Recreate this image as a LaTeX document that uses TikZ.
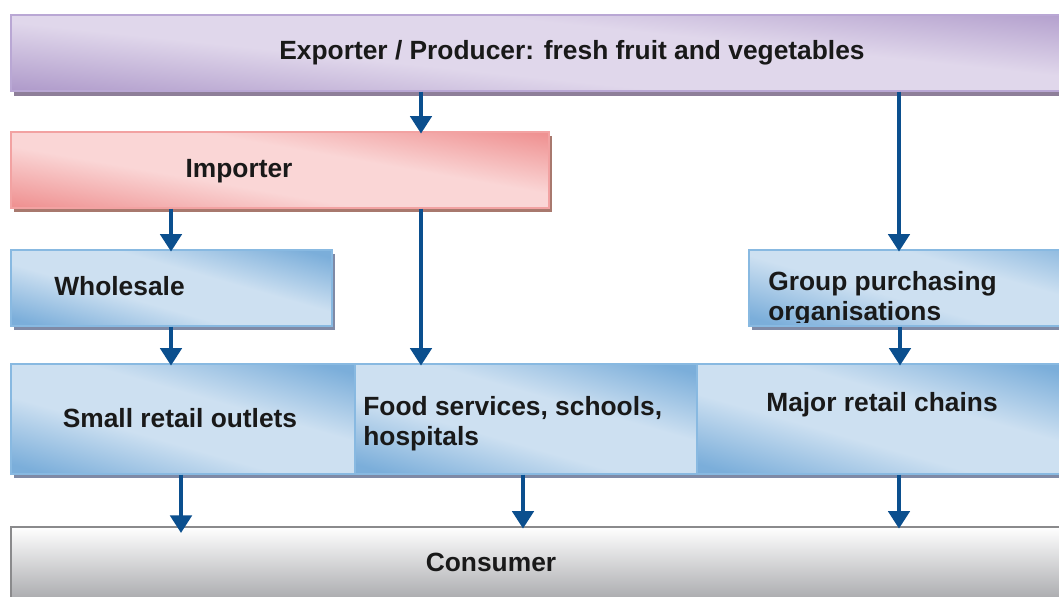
\documentclass[tikz,border=0pt]{standalone}
\usepackage{fontspec}
\setmainfont{Liberation Sans}
\usetikzlibrary{arrows.meta}
\definecolor{plight}{HTML}{E0D7EB}
\definecolor{pdark}{HTML}{AD98C9}
\definecolor{pborder}{HTML}{B9A7D4}
\definecolor{pshadow}{HTML}{8E7F99}
\definecolor{rlight}{HTML}{FAD6D6}
\definecolor{rdark}{HTML}{EF9292}
\definecolor{rborder}{HTML}{F2A2A2}
\definecolor{rshadow}{HTML}{A8796E}
\definecolor{blight}{HTML}{CDE0F1}
\definecolor{bdark}{HTML}{7BAEDA}
\definecolor{bborder}{HTML}{88B9E1}
\definecolor{bshadow}{HTML}{7F8AA6}
\definecolor{cgray}{HTML}{96979B}
\definecolor{cborder}{HTML}{8A8A8C}
\definecolor{arrblue}{HTML}{0B4F8E}
\pgfdeclarehorizontalshading{purpsh}{100bp}{color(0bp)=(pdark); color(22bp)=(pdark); color(42bp)=(plight); color(58bp)=(plight); color(78bp)=(pdark); color(100bp)=(pdark)}
\pgfdeclarehorizontalshading{redsh}{100bp}{color(0bp)=(rdark); color(22bp)=(rdark); color(42bp)=(rlight); color(58bp)=(rlight); color(78bp)=(rdark); color(100bp)=(rdark)}
\pgfdeclarehorizontalshading{bluesh}{100bp}{color(0bp)=(bdark); color(22bp)=(bdark); color(42bp)=(blight); color(58bp)=(blight); color(78bp)=(bdark); color(100bp)=(bdark)}
\tikzset{
  box/.style={rectangle, inner sep=0pt, anchor=north west, line width=1pt},
  purplebox/.style={box, shading=purpsh, shading angle=84, draw=pborder,
    preaction={fill=pshadow, transform canvas={shift={(1.7pt,-3pt)}}}},
  redbox/.style={box, shading=redsh, shading angle=80, draw=rborder,
    preaction={fill=rshadow, transform canvas={shift={(1.7pt,-2.5pt)}}}},
  bluebox/.style={box, shading=bluesh, shading angle=74, draw=bborder,
    preaction={fill=bshadow, transform canvas={shift={(1.7pt,-2.5pt)}}}},
  greybox/.style={box, top color=white, middle color=white!85!cgray, bottom color=cgray, draw=cborder},
  txt/.style={font=\bfseries\fontsize{15}{17}\selectfont, text=black!90, inner sep=0pt},
  arr/.style={line width=2.8pt, draw=arrblue, -{Triangle[width=12pt,length=10pt]}, shorten >=-1.5pt}
}
\begin{document}
\begin{tikzpicture}[x=0.02cm, y=-0.02cm]
\path[use as bounding box, clip] (0,0) rectangle (1059,596);
\fill[white] (0,0) rectangle (1059,596);
% boxes
\node[purplebox, minimum width=22.48cm, minimum height=1.52cm] (exp) at (10,14) {};
\node[redbox, minimum width=10.76cm, minimum height=1.52cm] (imp) at (10,131) {};
\node[bluebox, minimum width=6.42cm, minimum height=1.52cm] (whole) at (10,249) {};
\node[bluebox, minimum width=8cm, minimum height=1.52cm] (gpo) at (748,249) {};
\node[bluebox, minimum width=6.88cm, minimum height=2.2cm] (small) at (10,363) {};
\node[bluebox, minimum width=6.84cm, minimum height=2.2cm] (food) at (354,363) {};
\node[bluebox, minimum width=7.44cm, minimum height=2.2cm] (major) at (696,363) {};
\node[greybox, minimum width=22cm, minimum height=1.8cm] (cons) at (10,526) {};
% texts
\node[txt] (expt) at (572,53) {Exporter / Producer: fresh fruit and vegetables};
\node[txt] (impt) at (239,171) {Importer};
\node[txt] (wholet) at (119.5,286.5) {Wholesale};
\begin{scope}
\clip ([xshift=1pt,yshift=-1pt]gpo.north west) rectangle ([yshift=2.2pt]gpo.south east);
\node[txt, align=left, anchor=west] (gpot) at (768,299) {Group purchasing\\organisations};
\end{scope}
\node[txt] (smallt) at (180,418) {Small retail outlets};
\node[txt, align=left, anchor=west] (foodt) at (363,423.5) {Food services, schools,\\hospitals};
\node[txt] (majort) at (882,405) {Major retail chains};
\node[txt] (const) at (491,562) {Consumer};
% arrows
\draw[arr] (421,0 |- exp.south) -- (421,0 |- imp.north);
\draw[arr] (899,0 |- exp.south) -- (899,0 |- gpo.north);
\draw[arr] (171,0 |- imp.south) -- (171,0 |- whole.north);
\draw[arr] (421,0 |- imp.south) -- (421,0 |- food.north);
\draw[arr] (171,0 |- whole.south) -- (171,0 |- small.north);
\draw[arr] (900,0 |- gpo.south) -- (900,0 |- major.north);
\draw[arr, shorten >=-4pt] (181,0 |- small.south) -- (181,0 |- cons.north);
\draw[arr] (523,0 |- food.south) -- (523,0 |- cons.north);
\draw[arr] (899,0 |- major.south) -- (899,0 |- cons.north);
\end{tikzpicture}
\end{document}
